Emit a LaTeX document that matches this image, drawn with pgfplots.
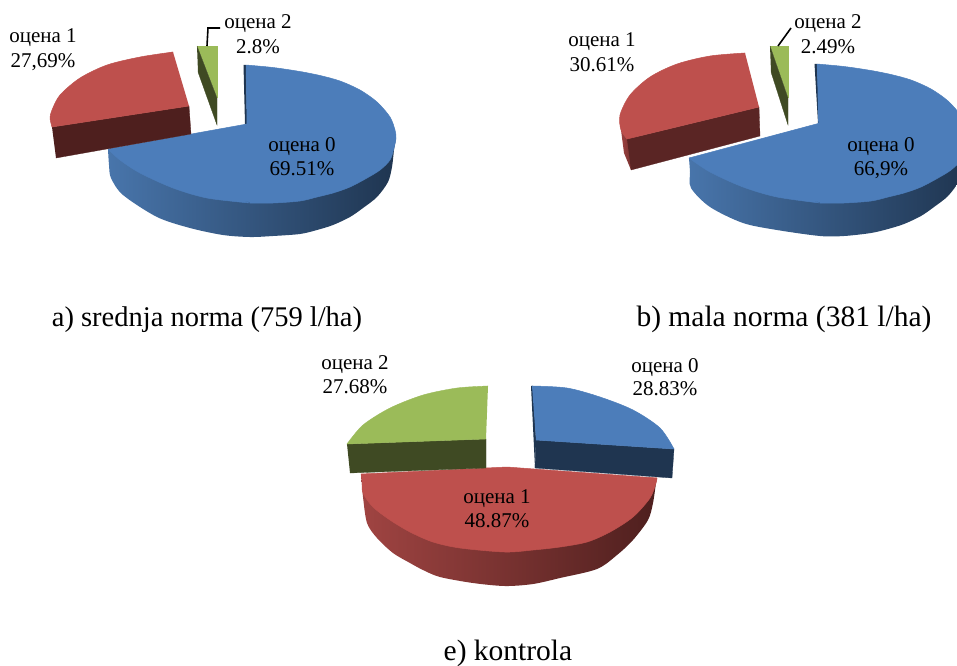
\documentclass[border=0pt]{standalone}
\usepackage{fontspec}
\setmainfont{Liberation Serif}
\usepackage{pgfplots}
\pgfplotsset{compat=1.18}
\definecolor{bluetop}{HTML}{4C7DBA}
\definecolor{bluedark}{HTML}{1F3550}
\definecolor{blueleft}{HTML}{4875AB}
\definecolor{bluemid}{HTML}{2F4F75}
\definecolor{redtop}{HTML}{BE504D}
\definecolor{redleft}{HTML}{A04442}
\definecolor{redmid}{HTML}{6B2C2A}
\definecolor{reddark}{HTML}{4E1F1E}
\definecolor{reddark2}{HTML}{5A2524}
\definecolor{greentop}{HTML}{9BBB59}
\definecolor{greendark}{HTML}{3F4A23}
\tikzset{
 bt/.style={fill=bluetop,draw=bluetop,line width=.5pt,line join=round},
 rt/.style={fill=redtop,draw=redtop,line width=.5pt,line join=round},
 gt/.style={fill=greentop,draw=greentop,line width=.4pt},
 bd/.style={fill=bluedark,draw=bluedark,line width=.3pt},
 rd/.style={fill=reddark,draw=reddark,line width=.3pt},
 gd/.style={fill=greendark,draw=greendark,line width=.3pt},
 bw/.style={shade,left color=blueleft,middle color=bluemid,right color=bluedark,draw=none},
 rw/.style={shade,left color=redleft,middle color=redmid,right color=reddark,draw=none},
 lab/.style={anchor=base,inner sep=0pt,font=\fontsize{21}{24}\selectfont},
}
\begin{document}
\begin{tikzpicture}
\path[use as bounding box] (0,0) rectangle (957pt,665pt);
\begin{axis}[
  at={(0,0)},anchor=south west,
  scale only axis,width=957pt,height=665pt,
  xmin=0,xmax=957,ymin=0,ymax=665,y dir=reverse,
  hide axis,
]
% ---------- pie a
\addplot[bw,smooth] coordinates {(108,149)(109,165)(111,178)(123,195)(157,217)(190,228)(223,235)(250,237)(273,236)(300,234)(317,230)(333,225)(350,217)(363,208)(377,197)(388,182)(392,167)(394,150)(396,138)};
\addplot[bd] coordinates {(243.5,65)(246,65)(247,124)(245,124)};
\addplot[bt,smooth] coordinates {(246,65)(273,67.5)(300,71.5)(320,75.5)(340,81)(360,90)(377,102)(390,117)(395,130)(396,138)(394,148)(390,160)(380,170)(367,178)(350,187)(333,193)(317,197)(300,201)(273,203)(250,203)};
\addplot[bt,smooth] coordinates {(250,203)(207,198)(173,188)(140,173)(120,160)(108,149)};
\addplot[bt] coordinates {(246,65)(247,124)(108,149)(170,181)(200,192)(230,199)(250,202)(300,150)(270,70)};
\addplot[rd] coordinates {(52,127)(189,106)(191,134)(56,158)};
\addplot[rt,smooth] coordinates {(173,52)(140,57)(107,65)(80,78)(60,95)(52,110)(50,118)(52,127)};
\addplot[rt] coordinates {(173,52)(100,75)(60,110)(52,127)(189,106)};
\addplot[gt] coordinates {(197,46)(217,46)(217,98)};
\addplot[gd] coordinates {(197,46)(217,98)(217,125)(198,72)};
\addplot[black,line width=1.6pt] coordinates {(207,46)(208,28)(220,28)};
% ---------- pie b
\addplot[bw,smooth] coordinates {(689,158)(690,172)(691,188)(710,207)(743,223)(777,230)(820,236)(844,236)(871,233)(888,229)(904,224)(921,216)(934,207)(948,196)(959,181)(963,166)(965,150)(967,138)};
\addplot[bd] coordinates {(814.5,64)(817,64)(820,123)(818,123)};
\addplot[bt,smooth] coordinates {(817,64)(844,66.5)(871,70.5)(891,74.5)(911,80)(931,89)(948,101)(961,116)(966,130)(967,138)(965,148)(961,160)(951,170)(938,178)(921,187)(904,193)(888,197)(871,201)(844,203)(820,203)};
\addplot[bt,smooth] coordinates {(820,203)(777,197)(743,187)(710,172)(689,158)};
\addplot[bt] coordinates {(817,64)(820,123)(689,158)(750,185)(780,194)(805,200)(820,202)(870,150)(841,69)};
\addplot[shade,left color=redleft,right color=reddark2,draw=none] coordinates {(620,118)(621,130)(624,153)(631,170)(640,140)};
\addplot[fill=reddark2,draw=reddark2,line width=.3pt] coordinates {(627,139)(759,107)(760,136)(631,170)};
\addplot[rt,smooth] coordinates {(745,53)(710,56)(677,64)(650,77)(630,95)(620,115)(621,130)(627,139)};
\addplot[rt] coordinates {(745,53)(680,70)(640,100)(627,139)(759,107)};
\addplot[gt] coordinates {(770,46)(788,46)(788,98)};
\addplot[gd] coordinates {(770,46)(788,98)(788,125)(771,72)};
\addplot[black,line width=1.6pt] coordinates {(778,46)(791,28)};
% ---------- pie e
\addplot[rw,smooth] coordinates {(361,474)(362,485)(363,497)(367,523)(377,538)(393,553)(410,563)(423,570)(440,577)(473,583)(505,586)(533,584)(560,578)(597,569)(617,555)(633,540)(648,520)(653,503)(656,483)(657,478)};
\addplot[rt,smooth] coordinates {(361,474)(362,480)(363,493)(373,507)(390,520)(410,532)(433,542)(460,548)(505,552)(533,550)(560,547)(587,542)(610,532)(633,517)(650,498)(656,483)(657,478)};
\addplot[rt] coordinates {(361,474)(486,468)(507,467)(657,478)(600,500)(450,510)(380,495)};
\addplot[gd] coordinates {(347,444)(486,439)(486,468)(350,473)};
\addplot[gt,smooth] coordinates {(488,386)(457,388)(423,395)(390,408)(363,425)(347,444)};
\addplot[gt] coordinates {(488,386)(420,400)(370,425)(347,444)(486,439)};
\addplot[bd] coordinates {(531,386)(533,386)(536,440)(535,468)};
\addplot[bd] coordinates {(536,440)(674,449)(672,478)(535,468)};
\addplot[bt,smooth] coordinates {(532,386)(567,388)(600,397)(633,410)(660,428)(674,449)};
\addplot[bt] coordinates {(532,386)(600,402)(650,430)(674,449)(536,440)};
% ---------- labels
\node[lab] at (axis cs:302,151) {оцена 0};
\node[lab] at (axis cs:302,175) {69.51\%};
\node[lab] at (axis cs:43,42) {оцена 1};
\node[lab] at (axis cs:43,67) {27,69\%};
\node[lab] at (axis cs:258,28) {оцена 2};
\node[lab] at (axis cs:258,53) {2.8\%};
\node[lab] at (axis cs:881,151) {оцена 0};
\node[lab] at (axis cs:881,175) {66,9\%};
\node[lab] at (axis cs:602,46) {оцена 1};
\node[lab] at (axis cs:602,71) {30.61\%};
\node[lab] at (axis cs:828,28) {оцена 2};
\node[lab] at (axis cs:828,53) {2.49\%};
\node[lab] at (axis cs:355,369) {оцена 2};
\node[lab] at (axis cs:355,393) {27.68\%};
\node[lab] at (axis cs:665,372) {оцена 0};
\node[lab] at (axis cs:665,395) {28.83\%};
\node[lab] at (axis cs:497,503) {оцена 1};
\node[lab] at (axis cs:497,527) {48.87\%};
\node[anchor=base,inner sep=0pt,font=\fontsize{28.5}{30}\selectfont] at (axis cs:207,326) {a) srednja norma (759 l/ha)};
\node[anchor=base,inner sep=0pt,font=\fontsize{29.5}{30}\selectfont] at (axis cs:784,326) {b) mala norma (381 l/ha)};
\node[anchor=base,inner sep=0pt,font=\fontsize{29.5}{30}\selectfont] at (axis cs:508,660) {e) kontrola};
\end{axis}
\end{tikzpicture}
\end{document}
